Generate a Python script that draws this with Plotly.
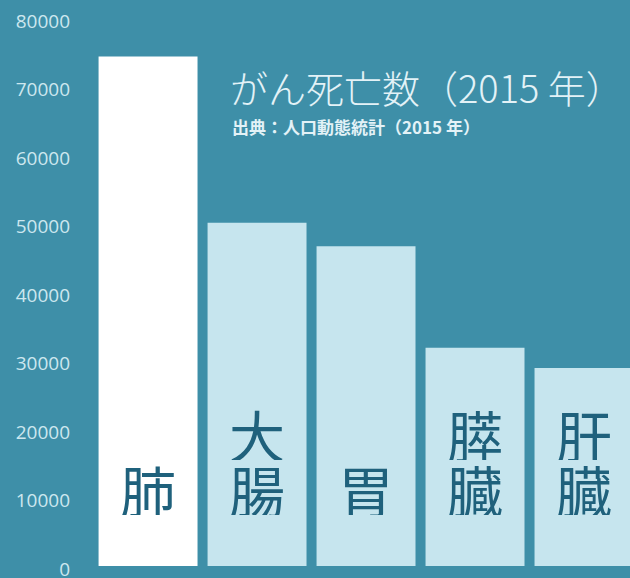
import plotly.graph_objects as go

categories = ["肺", "大腸", "胃", "膵臓", "肝臓"]
deaths = [74378, 50099, 46679, 31866, 28889]
bar_colors = ["#ffffff", "#c6e5ee", "#c6e5ee", "#c6e5ee", "#c6e5ee"]
y_ticks = [0, 10000, 20000, 30000, 40000, 50000, 60000, 70000, 80000]
title_text = "がん死亡数（2015 年）"
subtitle_text = "出典：人口動態統計（2015 年）"

BG = "#3e8fa8"
CJK = "Noto Sans CJK JP"

x_idx = list(range(len(categories)))

fig = go.Figure()
fig.add_trace(go.Bar(
    x=x_idx, y=deaths,
    marker=dict(color=bar_colors, line=dict(width=0)),
    hoverinfo="skip",
))

annotations = []
label_size = 56
line_h = 55
for i, name in enumerate(categories):
    chars = list(name)
    n = len(chars)
    for j, ch in enumerate(chars):
        annotations.append(dict(
            x=i, y=0, xref="x", yref="y",
            text=ch, showarrow=False,
            xanchor="center", yanchor="middle",
            height=line_h - 2,
            yshift=77 + (n - 1 - j) * line_h,
            font=dict(family=CJK, size=label_size, color="#1f617c"),
        ))

annotations.append(dict(
    x=0.266, y=0.876, xref="paper", yref="paper",
    text=title_text, showarrow=False, xanchor="left", yanchor="middle",
    font=dict(family=CJK, size=38, color="#e3f2f7", weight=300),
))
annotations.append(dict(
    x=0.27, y=0.803, xref="paper", yref="paper",
    text=subtitle_text, showarrow=False, xanchor="left", yanchor="middle",
    font=dict(family=CJK, size=17, color="#e3f2f7", weight="bold"),
))

fig.update_layout(
    width=630, height=578,
    margin=dict(l=82, r=0, t=18, b=8, pad=0, autoexpand=False),
    paper_bgcolor=BG, plot_bgcolor=BG,
    bargap=0.092,
    showlegend=False,
    annotations=annotations,
    xaxis=dict(range=[-0.606, 4.422], showticklabels=False, showgrid=False,
               zeroline=False, showline=False, ticks="", automargin=False),
    yaxis=dict(range=[-600, 80000], tickvals=y_ticks,
               ticktext=[str(v) for v in y_ticks],
               showgrid=False, zeroline=False, showline=False, ticks="",
               ticklabelstandoff=11, ticklabelshift=3,
               ticklabeloverflow="allow", automargin=False,
               tickfont=dict(family="Open Sans", size=19, color="#cde7ef")),
)

fig.write_html("out.html", config={"displayModeBar": False},
               post_script="document.body.style.margin='0';")
